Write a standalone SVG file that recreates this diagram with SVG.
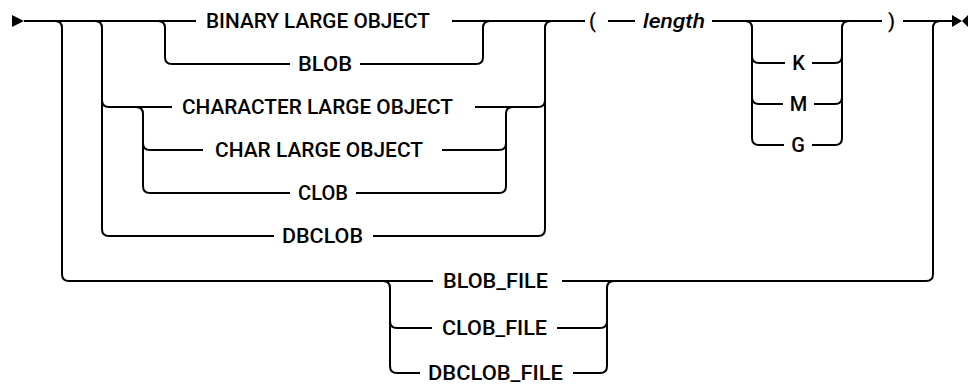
<svg xmlns="http://www.w3.org/2000/svg" width="968" height="387" viewBox="0 0 968 387">
<style>
.c{fill:none;stroke:#000;stroke-width:2;stroke-linecap:butt}
.t{font-family:Roboto,"Liberation Sans",sans-serif;font-size:20px;font-weight:500;fill:#000}
.i{font-style:italic}
.m{fill:#000}
</style>
<rect width="968" height="387" fill="#fff"/>
<g id="connectors">
<polygon class="m" points="12,15 24,21 12,27"/>
<polygon class="m" points="952,15 962,21 952,27"/>
<polygon class="m" points="968,15 962,21 968,27"/>
<path class="c" d="M24,21H196 M452,21H585 M608,21H635 M712,21H882 M903,21H952"/>
<path class="c" d="M55,21Q62,21 62,28V274Q62,281 69,281H433 M562,281H926 M926,281Q933,281 933,274V28Q933,21 940,21"/>
<path class="c" d="M383,281Q390,281 390,288V366Q390,373 397,373H420 M390,321Q390,328 397,328H432 M557,328H600 M573,373H600 M600,373Q607,373 607,366V288Q607,281 614,281 M600,328Q607,328 607,321"/>
<path class="c" d="M95,21Q102,21 102,28V229Q102,236 109,236H274 M102,100Q102,107 109,107H172 M475,107H538 M373,236H538 M538,236Q545,236 545,229V28Q545,21 552,21 M538,107Q545,107 545,100"/>
<path class="c" d="M158,21Q165,21 165,28V57Q165,64 172,64H290 M360,64H476 M476,64Q483,64 483,57V28Q483,21 490,21"/>
<path class="c" d="M136,107Q143,107 143,114V186Q143,193 150,193H290 M143,143Q143,150 150,150H203 M442,150H499 M356,193H499 M499,193Q506,193 506,186V114Q506,107 513,107 M499,150Q506,150 506,143"/>
<path class="c" d="M745,21Q752,21 752,28V138Q752,145 759,145H784 M752,56Q752,63 759,63H785 M752,97Q752,104 759,104H783 M812,63H835 M814,104H835 M812,145H835 M835,145Q842,145 842,138V28Q842,21 849,21 M835,63Q842,63 842,56 M835,104Q842,104 842,97"/>
</g>
<g id="n-binary"><text class="t" x="206" y="28" textLength="224" lengthAdjust="spacingAndGlyphs">BINARY LARGE OBJECT</text></g>
<g id="n-blob"><text class="t" x="298" y="71" textLength="54" lengthAdjust="spacingAndGlyphs">BLOB</text></g>
<g id="n-character"><text class="t" x="182" y="114" textLength="271" lengthAdjust="spacingAndGlyphs">CHARACTER LARGE OBJECT</text></g>
<g id="n-char"><text class="t" x="215" y="157" textLength="208" lengthAdjust="spacingAndGlyphs">CHAR LARGE OBJECT</text></g>
<g id="n-clob"><text class="t" x="298" y="200" textLength="50" lengthAdjust="spacingAndGlyphs">CLOB</text></g>
<g id="n-dbclob"><text class="t" x="282" y="243" textLength="81" lengthAdjust="spacingAndGlyphs">DBCLOB</text></g>
<g id="n-lparen"><text class="t" x="589" y="28">(</text></g>
<g id="n-length"><text class="t i" x="643" y="28" textLength="62" lengthAdjust="spacingAndGlyphs">length</text></g>
<g id="n-k"><text class="t" x="798.5" y="70" text-anchor="middle">K</text></g>
<g id="n-m"><text class="t" x="798.5" y="111" text-anchor="middle">M</text></g>
<g id="n-g"><text class="t" x="798" y="152" text-anchor="middle">G</text></g>
<g id="n-rparen"><text class="t" x="888" y="28">)</text></g>
<g id="n-blobfile"><text class="t" x="443" y="288" textLength="105" lengthAdjust="spacingAndGlyphs">BLOB_FILE</text></g>
<g id="n-clobfile"><text class="t" x="442" y="335" textLength="105" lengthAdjust="spacingAndGlyphs">CLOB_FILE</text></g>
<g id="n-dbclobfile"><text class="t" x="428" y="380" textLength="135" lengthAdjust="spacingAndGlyphs">DBCLOB_FILE</text></g>
</svg>
